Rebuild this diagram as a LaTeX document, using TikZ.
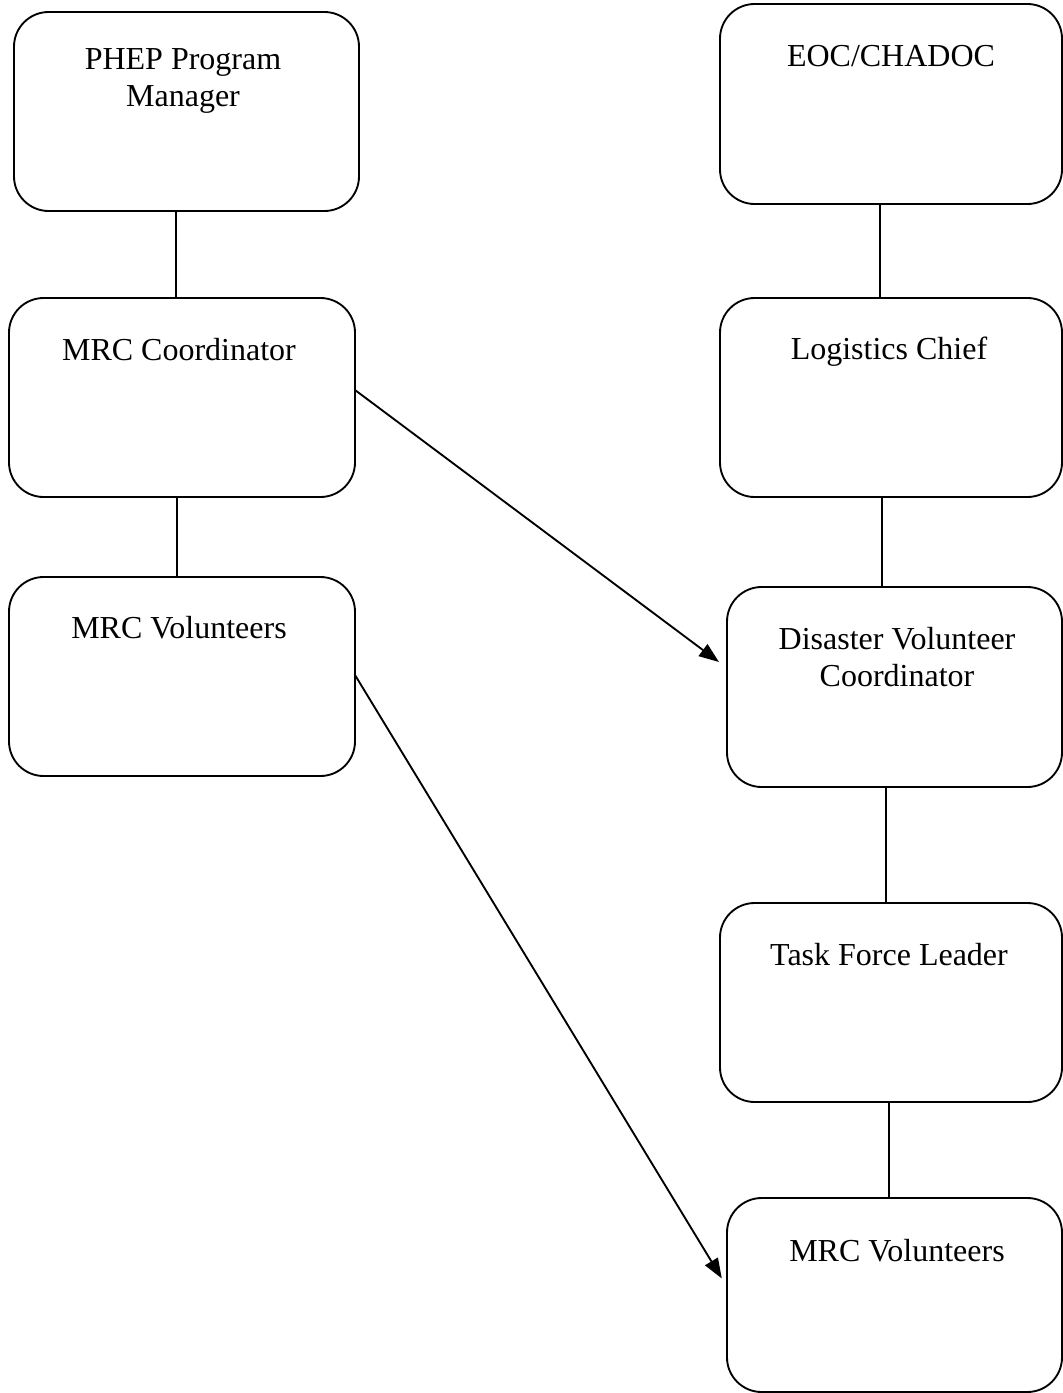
\documentclass[tikz,border=0pt]{standalone}
\usepackage{fontspec}
\setmainfont{Liberation Serif}
\usetikzlibrary{arrows.meta}
\tikzset{
  box/.style={draw, rounded corners=26pt, line width=1.4pt, inner sep=0pt, outer sep=0pt},
  lbl/.style={font=\fontsize{24}{28}\selectfont, align=center, inner sep=0pt},
  link/.style={line width=1.3pt},
  arr/.style={line width=1.4pt, -{Triangle[length=15pt,width=11pt]}, shorten >=7.5pt}
}
\begin{document}
\begin{tikzpicture}[x=0.75pt,y=-0.75pt]
\useasboundingbox (0,0) rectangle (1063,1393);
% boxes
\node[box, minimum width=258.75pt, minimum height=149.25pt] (pm)  at (186.5,111.5) {};
\node[box, minimum width=259.5pt,  minimum height=149.25pt] (mc)  at (182,397.5) {};
\node[box, minimum width=259.5pt,  minimum height=149.25pt] (mv)  at (182,676.5) {};
\node[box, minimum width=256.5pt,  minimum height=150pt]    (eoc) at (891,104) {};
\node[box, minimum width=256.5pt,  minimum height=149.25pt] (lc)  at (891,397.5) {};
\node[box, minimum width=251.25pt, minimum height=150pt]    (dvc) at (894.5,687) {};
\node[box, minimum width=256.5pt,  minimum height=149.25pt] (tfl) at (891,1002.5) {};
\node[box, minimum width=251.25pt, minimum height=145.5pt]  (mv2) at (894.5,1295) {};
% labels
\node[lbl] (tpm)  at (183,81)   {PHEP Program\\Manager};
\node[lbl] (tmc)  at (179,350)  {MRC Coordinator};
\node[lbl] (tmv)  at (179,628)  {MRC Volunteers};
\node[lbl] (teoc) at (891,56)   {EOC/CHADOC};
\node[lbl] (tlc)  at (889,352)  {Logistics Chief};
\node[lbl] (tdvc) at (897,657)  {Disaster Volunteer\\Coordinator};
\node[lbl] (ttfl) at (889,955)  {Task Force Leader};
\node[lbl] (tmv2) at (897,1251) {MRC Volunteers};
% vertical links
\draw[link] (176,0 |- pm.south) -- (176,0 |- mc.north);
\draw[link] (177,0 |- mc.south) -- (177,0 |- mv.north);
\draw[link] (880,0 |- eoc.south) -- (880,0 |- lc.north);
\draw[link] (882,0 |- lc.south) -- (882,0 |- dvc.north);
\draw[link] (886,0 |- dvc.south) -- (886,0 |- tfl.north);
\draw[link] (889,0 |- tfl.south) -- (889,0 |- mv2.north);
% arrows
\draw[arr] (mc.east |- 0,390) -- (dvc.west |- 0,668);
\draw[arr] (mv.east |- 0,675) -- (mv2.west |- 0,1287);
\end{tikzpicture}
\end{document}
